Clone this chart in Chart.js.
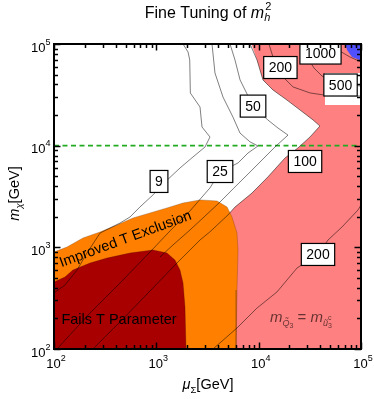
<!DOCTYPE html>
<html><head><meta charset="utf-8">
<script src="https://cdn.jsdelivr.net/npm/chart.js@4.4.1/dist/chart.umd.min.js"></script>
<style>html,body{margin:0;padding:0;background:#fff;}canvas{display:block;}</style>
</head><body>
<canvas id="c" width="374" height="399" style="width:374px;height:399px"></canvas>
<script>
// ---------------- data (GeV) ----------------
const xTicks = [100, 1000, 10000, 100000];
const xTickExp = ['2', '3', '4', '5'];
const yTicks = [100, 1000, 10000, 100000];
const yTickExp = ['2', '3', '4', '5'];
const dashedLevel = 10000;

// filled regions (boundaries)
const failsMu   = [90, 100, 128, 153, 225, 330, 553, 927, 1270, 1521, 1703, 1823, 1905, 1950, 1950, 90];
const failsMchi = [456, 456, 511, 598, 701, 785, 879, 942, 879, 750, 598, 446, 259, 100, 90, 90];

const improvedMu   = [90, 100, 134, 192, 282, 413, 592, 867, 1270, 1823, 2673, 3918, 4909, 5488, 6141, 6284, 6141, 6010, 6010, 90];
const improvedMchi = [900, 900, 1007, 1236, 1416, 1660, 1945, 2178, 2440, 2731, 2927, 2860, 2496, 1988, 1383, 942, 380, 100, 90, 90];

const pinkMu   = [8230, 9640, 11020, 13800, 18900, 25400, 34000, 39700, 31800, 24200, 18100, 12300, 8610, 5870, 5010, 4190, 4190, 110000, 110000, 8230];
const pinkMchi = [110000, 69600, 44300, 35300, 28100, 22400, 17900, 15600, 12200, 9490, 7570, 4920, 3420, 2490, 2080, 1180, 90, 90, 110000, 110000];

const blueMu   = [110000, 69000, 73000, 81700, 110000];
const blueMchi = [110000, 110000, 87300, 74500, 66500];

const whiteMu   = [44500, 110000, 110000, 44500];
const whiteMchi = [51900, 51900, 25100, 25100];

// contour lines
const c9Mu    = [1824, 2042, 2120, 2150, 2673, 2795, 3344, 2990, 2280, 1703, 1216, 927, 692, 553, 442, 282, 210, 168, 128, 100];
const c9Mchi  = [100000, 83400, 69700, 32950, 23990, 15270, 12170, 9700, 7740, 6030, 4390, 3275, 2496, 1988, 1734, 1383, 879, 598, 426, 356];
const c25Mu   = [3500, 3740, 4480, 5610, 6570, 8230, 9850, 7870, 6290, 4190, 3340, 2130, 1360, 927, 442, 225, 107];
const c25Mchi = [100000, 51900, 30100, 19100, 13300, 10900, 9930, 8470, 6760, 5510, 3840, 2280, 1450, 964, 446, 226, 100];
const c50Mu   = [5250, 5870, 6580, 8810, 12300, 15450, 19350, 14760, 10790, 7870, 5740, 4190, 2990, 2130, 1455, 1086];
const c50Mchi = [100000, 69600, 44300, 24500, 17900, 14900, 12700, 9930, 7230, 5260, 3840, 2790, 2030, 1480, 1055, 804];
const c100Mu  = [8230, 9640, 11020, 13800, 18900, 25400, 34000, 39700, 31800, 24200, 18100, 12300, 8610, 5870, 5010, 3340, 2670, 1590, 867, 442, 240];
const c100Mchi= [100000, 69600, 44300, 35300, 28100, 22400, 17900, 15600, 12200, 9490, 7570, 4920, 3420, 2490, 2080, 1420, 1180, 701, 372, 185, 100];
const c200aMu = [12600, 13800, 16100, 16900, 21700, 31800, 43400, 100000];
const c200aMchi=[100000, 74500, 59400, 48400, 37800, 33000, 31500, 30800];
const c500Mu  = [27700, 30300, 34700, 41600, 62400, 100000];
const c500Mchi= [100000, 72800, 58100, 48400, 40400, 38600];
const c1000Mu = [59600, 78000, 100000];
const c1000Mchi=[87300, 74500, 66500];
const c200bMu = [3580, 6140, 9640, 15100, 23700, 38000, 47600, 65200, 93500, 100000];
const c200bMchi=[100, 161, 253, 364, 626, 851, 1180, 1585, 2330, 2610];

// contour labels
const labelText = ['9', '25', '50', '100', '200', '500', '1000', '200'];
const labelMu   = [1062, 4190, 8810, 28400, 16300, 63100, 40200, 38000];
const labelMchi = [4446, 5570, 24500, 6990, 58700, 39500, 81500, 851];

// region annotations
const regionText  = ['Improved T Exclusion', 'Fails T Parameter'];
const regionMu    = [500, 432];
const regionMchi  = [1200, 193];
const regionAngle = [-20.3, 0];
const relationMu = 12900, relationMchi = 185;

// ---------------- chart ----------------
const FONT = '"Liberation Sans", Arial, Helvetica, sans-serif';
const pts = (a, b) => a.map((v, i) => ({x: v, y: b[i]}));
const contourColor = 'rgba(0,0,0,0.5)';
const contour = (mu, mc) => ({data: pts(mu, mc), borderColor: contourColor, borderWidth: 1, pointRadius: 0, fill: false, order: 0});
const region = (mu, mc, color, border, ord) => ({data: pts(mu, mc), backgroundColor: color, borderColor: border, borderWidth: border ? 0.8 : 0, pointRadius: 0, fill: 'shape', order: ord});

const datasets = [
  contour(c9Mu, c9Mchi), contour(c25Mu, c25Mchi), contour(c50Mu, c50Mchi), contour(c100Mu, c100Mchi),
  contour(c200aMu, c200aMchi), contour(c500Mu, c500Mchi), contour(c1000Mu, c1000Mchi), contour(c200bMu, c200bMchi),
  {data: [{x: xTicks[0], y: dashedLevel}, {x: xTicks[3], y: dashedLevel}], borderColor: '#22aa22', borderWidth: 1.7, borderDash: [5, 3.5], pointRadius: 0, fill: false, order: 0},
  region(failsMu, failsMchi, '#a80000', 'rgba(60,0,0,0.35)', 1),
  region(improvedMu, improvedMchi, '#ff8000', 'rgba(90,40,0,0.35)', 2),
  region(whiteMu, whiteMchi, '#ffffff', null, 3),
  region(blueMu, blueMchi, '#5050ff', null, 4),
  region(pinkMu, pinkMchi, '#ff8080', null, 5)
];

function drawRuns(ctx, runs, x, y, align) {
  let w = 0, lastStart = 0, lastW = 0; const pos = [];
  for (const r of runs) {
    ctx.font = r.f; const rw = ctx.measureText(r.t).width;
    if (r.stack) { pos.push(lastStart); const nw = Math.max(lastW, rw); w = lastStart + nw; lastW = nw; }
    else { pos.push(w); lastStart = w; lastW = rw; w += rw; }
  }
  const x0 = align === 'center' ? x - w / 2 : align === 'right' ? x - w : x;
  runs.forEach((r, i) => { ctx.font = r.f; ctx.fillText(r.t, x0 + pos[i] + (r.dx || 0), y + (r.dy || 0)); });
}

const overlay = {
  id: 'overlay',
  afterDatasetsDraw(chart) {
    const {ctx, chartArea: a} = chart; const xs = chart.scales.x, ys = chart.scales.y;
    ctx.save();
    ctx.beginPath(); ctx.rect(a.left, a.top, a.right - a.left, a.bottom - a.top); ctx.clip();
    // region annotations
    ctx.fillStyle = '#000'; ctx.textAlign = 'center'; ctx.textBaseline = 'middle';
    ctx.font = '14.5px ' + FONT;
    regionText.forEach((t, i) => {
      ctx.save();
      ctx.translate(xs.getPixelForValue(regionMu[i]), ys.getPixelForValue(regionMchi[i]));
      ctx.rotate(regionAngle[i] * Math.PI / 180);
      ctx.fillText(t, 0, 0);
      ctx.restore();
    });
    // relation text
    ctx.textAlign = 'left'; ctx.textBaseline = 'alphabetic';
    ctx.fillStyle = 'rgba(40,20,20,0.72)';
    drawRuns(ctx, [
      {t: 'm', f: 'italic 15px ' + FONT},
      {t: 'Q\u0303', f: 'italic 9px ' + FONT, dy: 4},
      {t: '3', f: '7px ' + FONT, dy: 6},
      {t: ' = ', f: '15px ' + FONT},
      {t: 'm', f: 'italic 15px ' + FONT},
      {t: '\u0169', f: 'italic 9px ' + FONT, dy: 4},
      {t: '3', f: '7px ' + FONT, dy: 6},
      {t: 'c', f: '7px ' + FONT, dy: -2, stack: true}
    ], xs.getPixelForValue(relationMu), ys.getPixelForValue(relationMchi), 'left');
    // contour labels
    ctx.font = '14px ' + FONT; ctx.textAlign = 'center'; ctx.textBaseline = 'middle';
    labelText.forEach((t, i) => {
      const px = xs.getPixelForValue(labelMu[i]), py = ys.getPixelForValue(labelMchi[i]);
      const w = ctx.measureText(t).width + 10, h = 22;
      ctx.fillStyle = '#fff'; ctx.fillRect(px - w / 2, py - h / 2, w, h);
      ctx.strokeStyle = '#000'; ctx.lineWidth = 1.2; ctx.strokeRect(px - w / 2, py - h / 2, w, h);
      ctx.fillStyle = '#000'; ctx.fillText(t, px, py + 1);
    });
    ctx.restore();
  },
  afterDraw(chart) {
    const {ctx, chartArea: a} = chart; const xs = chart.scales.x, ys = chart.scales.y;
    ctx.save();
    ctx.strokeStyle = '#000';
    // ticks (inward, all four sides)
    ctx.lineWidth = 1.5;
    for (let d = 0; d < xTicks.length; d++) {
      for (let k = 1; k <= 9; k++) {
        if (d === xTicks.length - 1 && k > 1) break;
        const v = xTicks[d] * k, len = k === 1 ? 6.5 : 4;
        const px = Math.round(xs.getPixelForValue(v)) + 0.5;
        ctx.beginPath();
        ctx.moveTo(px, a.bottom); ctx.lineTo(px, a.bottom - len);
        ctx.moveTo(px, a.top); ctx.lineTo(px, a.top + len);
        ctx.stroke();
      }
    }
    for (let d = 0; d < yTicks.length; d++) {
      for (let k = 1; k <= 9; k++) {
        if (d === yTicks.length - 1 && k > 1) break;
        const v = yTicks[d] * k, len = k === 1 ? 6.5 : 4;
        const py = Math.round(ys.getPixelForValue(v)) + 0.5;
        ctx.beginPath();
        ctx.moveTo(a.left, py); ctx.lineTo(a.left + len, py);
        ctx.moveTo(a.right, py); ctx.lineTo(a.right - len, py);
        ctx.stroke();
      }
    }
    // frame
    ctx.lineWidth = 2;
    ctx.strokeRect(a.left, a.top, a.right - a.left, a.bottom - a.top);
    // tick labels
    ctx.fillStyle = '#000'; ctx.textAlign = 'left'; ctx.textBaseline = 'alphabetic';
    xTicks.forEach((v, i) => {
      drawRuns(ctx, [{t: '10', f: '13px ' + FONT}, {t: xTickExp[i], f: '9px ' + FONT, dy: -7}],
        xs.getPixelForValue(v) + 2, a.bottom + 19, 'center');
    });
    yTicks.forEach((v, i) => {
      drawRuns(ctx, [{t: '10', f: '13px ' + FONT}, {t: yTickExp[i], f: '9px ' + FONT, dy: -7}],
        a.left - 3.5, ys.getPixelForValue(v) + 7.5, 'right');
    });
    // title
    drawRuns(ctx, [
      {t: 'Fine Tuning of ', f: '16px ' + FONT},
      {t: 'm', f: 'italic 16px ' + FONT},
      {t: 'h', f: 'italic 11px ' + FONT, dy: 3.5},
      {t: '2', f: '11px ' + FONT, dy: -8, stack: true, dx: 1}
    ], 207.5, 17.5, 'center');
    // x axis title
    drawRuns(ctx, [
      {t: '\u03bc', f: 'italic 14.5px ' + FONT},
      {t: '\u03a3', f: '9.5px ' + FONT, dy: 3.5},
      {t: '[GeV]', f: '14.5px ' + FONT}
    ], (a.left + a.right) / 2 + 0.5, a.bottom + 40, 'center');
    // y axis title
    ctx.save();
    ctx.translate(18.5, (a.top + a.bottom) / 2 - 3);
    ctx.rotate(-Math.PI / 2);
    drawRuns(ctx, [
      {t: 'm', f: 'italic 14.5px ' + FONT},
      {t: '\u03c7', f: 'italic 9.5px ' + FONT, dy: 3.5},
      {t: '[GeV]', f: '14.5px ' + FONT}
    ], 0, 0, 'center');
    ctx.restore();
    ctx.restore();
  }
};

new Chart(document.getElementById('c'), {
  type: 'line',
  data: {datasets},
  options: {
    responsive: false, animation: false, devicePixelRatio: 1,
    layout: {padding: {left: 54, right: 13, top: 44, bottom: 50}},
    scales: {
      x: {type: 'logarithmic', min: xTicks[0], max: xTicks[3], display: false},
      y: {type: 'logarithmic', min: yTicks[0], max: yTicks[3], display: false}
    },
    elements: {point: {radius: 0}, line: {tension: 0}},
    plugins: {legend: {display: false}, tooltip: {enabled: false}, title: {display: false}}
  },
  plugins: [overlay]
});
</script>
</body></html>
